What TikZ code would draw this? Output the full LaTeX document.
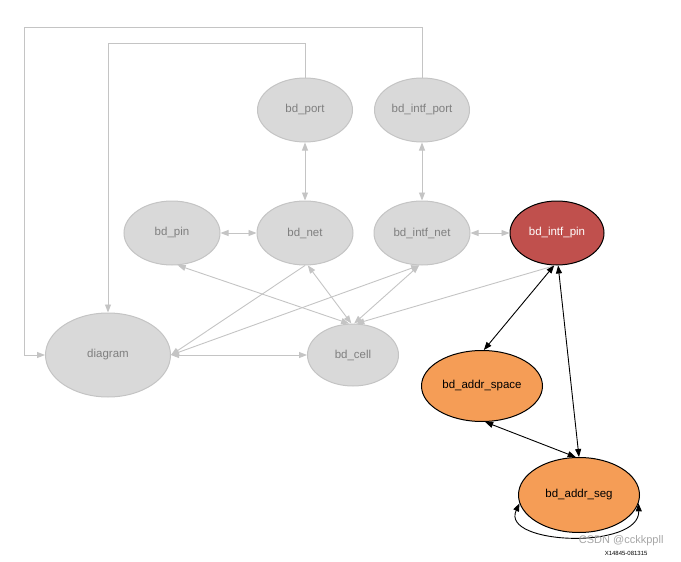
\documentclass[tikz,border=0pt]{standalone}
\usepackage{fontspec}
\setmainfont{Liberation Sans}
\usetikzlibrary{arrows.meta,shapes.geometric}
\definecolor{gfill}{HTML}{D9D9D9}
\definecolor{gline}{HTML}{C4C4C4}
\definecolor{gtext}{HTML}{7F7F7F}
\definecolor{redfill}{HTML}{C0504D}
\definecolor{orfill}{HTML}{F59D56}
\tikzset{
  gnode/.style={ellipse,draw=gline,fill=gfill,text=gtext,line width=1pt,inner sep=0pt,font=\fontsize{11.5}{13}\selectfont},
  bnode/.style={ellipse,draw=black,line width=1pt,inner sep=0pt,font=\fontsize{11.5}{13}\selectfont},
  gedge/.style={draw=gline,line width=0.9pt,-{Triangle[length=8pt,width=6pt]}},
  gboth/.style={draw=gline,line width=0.9pt,{Triangle[length=8pt,width=6pt]}-{Triangle[length=8pt,width=6pt]}},
  bboth/.style={draw=black,line width=0.9pt,{Triangle[length=8pt,width=6pt]}-{Triangle[length=8pt,width=6pt]}},
}
\begin{document}
\begin{tikzpicture}[x=1pt,y=-1pt]
\useasboundingbox (0,0) rectangle (681,562);
\node[gnode,minimum width=95pt,minimum height=64pt] (port) at (305,110) {bd\_port};
\node[gnode,minimum width=95pt,minimum height=64pt] (iport) at (422,110) {bd\_intf\_port};
\node[gnode,minimum width=96pt,minimum height=64pt] (pin) at (172,233) {bd\_pin};
\node[gnode,minimum width=96pt,minimum height=64pt] (net) at (305,233) {bd\_net};
\node[gnode,minimum width=96pt,minimum height=64pt] (inet) at (422,233) {bd\_intf\_net};
\node[bnode,fill=redfill,text=white,minimum width=94pt,minimum height=64pt] (ipin) at (557,233) {bd\_intf\_pin};
\node[gnode,minimum width=125pt,minimum height=84pt] (diag) at (108,355) {diagram};
\node[gnode,minimum width=91pt,minimum height=62pt] (cell) at (353,355) {bd\_cell};
\node[bnode,fill=orfill,text=black,minimum width=121pt,minimum height=71pt] (aspace) at (482,386) {bd\_addr\_space};
\node[bnode,fill=orfill,text=black,minimum width=121pt,minimum height=75pt] (aseg) at (579,495) {bd\_addr\_seg};
\coordinate (c1) at (305,43);
\coordinate (c2) at (108,43);
\coordinate (c3) at (422,27);
\coordinate (c4) at (24,27);
\coordinate (c5) at (24,355);
% orthogonal connectors
\path[gedge] (port.north) -- (c1) -- (c2) -- (diag.north);
\path[gedge] (iport.north) -- (c3) -- (c4) -- (c5) -- (diag.west);
% gray edges
\path[gboth] (port) -- (net);
\path[gboth] (iport) -- (inet);
\path[gboth] (pin) -- (net);
\path[gboth] (inet) -- (ipin);
\path[gboth] (pin.-80) -- (cell.97);
\path[gedge] (net.south) -- (diag.east);
\path[gboth] (net.-85) -- (cell.93);
\path[gboth] (inet.-95) -- (diag.east);
\path[gboth] (inet.-95) -- (cell.88);
\path[gedge] (ipin.-93) -- (cell.84);
\path[gboth] (diag.east) -- (cell.west);
% black edges
\path[bboth] (ipin.-95) -- (aspace.87);
\path[bboth] (ipin.-88) -- (aseg.90);
\path[bboth] (aspace.-85) -- (aseg.95);
\path[bboth] (aseg.188) .. controls (500,545) and (640,550) .. (aseg.-8);
\node[text=black!35,font=\fontsize{11}{12}\selectfont,anchor=east] (wm) at (667,541) {CSDN @cckkppll};
\node[text=black,font=\fontsize{6}{7}\selectfont,anchor=east] (fig) at (651,553) {X14845-081315};
\end{tikzpicture}
\end{document}
